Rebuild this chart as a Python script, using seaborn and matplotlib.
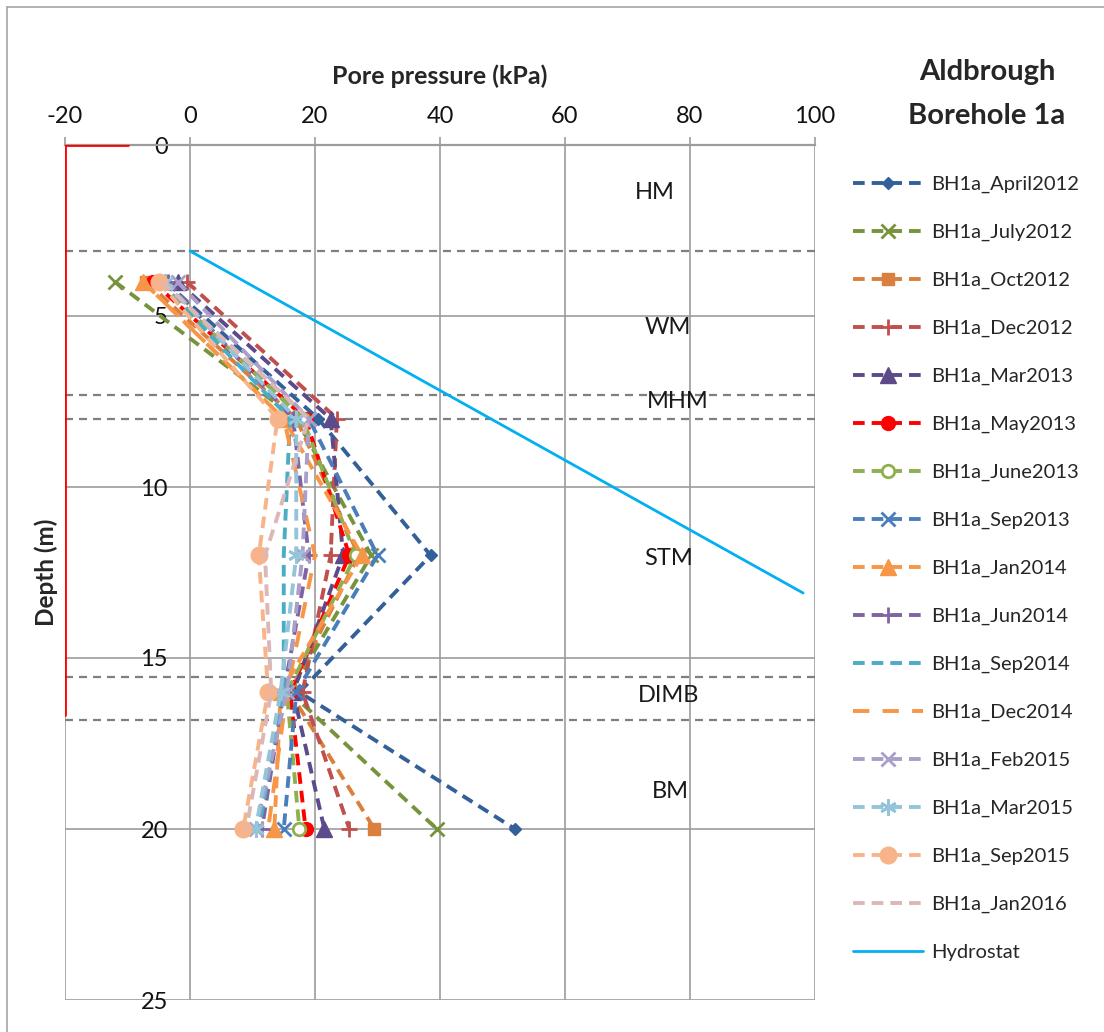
import matplotlib
matplotlib.use("Agg")
import matplotlib.pyplot as plt
from matplotlib.lines import Line2D
import seaborn as sns

# Piezometer tip depths (m)
depths = [4, 8, 12, 16, 20]

# Pore pressure readings (kPa) at each tip depth
april2012 = [-4.0, 20.5, 38.5, 17.5, 52.0]
july2012 = [-12.0, 17.0, 29.0, 16.0, 39.5]
oct2012 = [-7.0, 17.0, 27.0, 16.0, 29.5]
dec2012 = [-0.5, 23.5, 22.5, 18.0, 25.5]
mar2013 = [-2.0, 22.5, 24.5, 16.5, 21.5]
may2013 = [-6.0, 18.5, 25.5, 16.0, 18.5]
june2013 = [-5.0, 18.0, 26.5, 15.5, 17.5]
sep2013 = [-4.5, 19.0, 30.0, 17.0, 15.0]
jan2014 = [-7.5, 15.0, 27.5, 14.5, 13.5]
jun2014 = [-3.5, 16.5, 19.0, 15.0, 11.5]
sep2014 = [-5.0, 16.0, 15.0, 15.0, 11.0]
dec2014 = [-7.5, 15.0, 20.0, 15.5, 12.5]
feb2015 = [-2.0, 19.0, 18.0, 15.5, 10.5]
mar2015 = [-4.0, 17.0, 17.0, 14.5, 10.5]
sep2015 = [-5.0, 14.0, 11.0, 12.5, 8.5]
jan2016 = [-4.5, 19.0, 12.0, 13.0, 9.0]

series_names = ["BH1a_April2012", "BH1a_July2012", "BH1a_Oct2012", "BH1a_Dec2012",
                "BH1a_Mar2013", "BH1a_May2013", "BH1a_June2013", "BH1a_Sep2013",
                "BH1a_Jan2014", "BH1a_Jun2014", "BH1a_Sep2014", "BH1a_Dec2014",
                "BH1a_Feb2015", "BH1a_Mar2015", "BH1a_Sep2015", "BH1a_Jan2016"]
series_values = [april2012, july2012, oct2012, dec2012, mar2013, may2013, june2013,
                 sep2013, jan2014, jun2014, sep2014, dec2014, feb2015, mar2015,
                 sep2015, jan2016]

# Hydrostatic line from the water table
hydro_depth = [3.1, 13.1]
hydro_pressure = [0.0, 98.1]

# Ground-level reference trace
ground_pressure = [-10.0, -20.0, -20.0]
ground_depth = [0.0, 0.0, 16.67]

# Stratigraphic boundaries and unit names
boundary_depths = [3.1, 7.3, 8.0, 15.55, 16.8]
unit_names = ["HM", "WM", "MHM", "STM", "DIMB", "BM"]
unit_pressure = [74.4, 76.5, 78.0, 76.5, 76.6, 76.8]
unit_depth = [1.4, 5.35, 7.5, 12.1, 16.1, 18.9]

x_ticks = [-20, 0, 20, 40, 60, 80, 100]
y_ticks = [0, 5, 10, 15, 20, 25]

# Line styles per series
DASH = (0, (3.0, 1.8))
LONG = (0, (4.2, 3.4))
styles = [
    dict(color="#34609A", marker="D", ms=6.5, ls=DASH),
    dict(color="#77933C", marker="x", ms=10, ls=DASH, mew=2),
    dict(color="#DB7F3E", marker="s", ms=9, ls=DASH),
    dict(color="#C0504D", marker="+", ms=11, ls=DASH, mew=2),
    dict(color="#5C4A8A", marker="^", ms=11, ls=DASH),
    dict(color="#FF0000", marker="o", ms=10, ls=DASH),
    dict(color="#8FB04E", marker="o", ms=9, ls=DASH, mfc="white", mew=2),
    dict(color="#4A7EBB", marker="x", ms=10, ls=DASH, mew=2),
    dict(color="#F79646", marker="^", ms=11, ls=DASH),
    dict(color="#8064A2", marker="+", ms=11, ls=DASH, mew=2),
    dict(color="#4BACC6", marker=None, ms=0, ls=DASH),
    dict(color="#F79646", marker=None, ms=0, ls=LONG),
    dict(color="#A99FC9", marker="x", ms=10, ls=DASH, mew=2),
    dict(color="#93C4D8", marker=(6, 2, 0), ms=12, ls=DASH, mew=2),
    dict(color="#F7B48A", marker="o", ms=12, ls=DASH),
    dict(color="#DDB7B7", marker=None, ms=0, ls=DASH),
]

sns.set_theme(style="white")
plt.rcParams["font.family"] = ["Lato", "DejaVu Sans"]
plt.rcParams["axes.unicode_minus"] = False

W, H = 1104, 1032
fig = plt.figure(figsize=(W / 100, H / 100), dpi=100)
ax = fig.add_axes([65 / W, 1 - 1000 / H, 750 / W, 855 / H])

GRID = "#9C9C9C"

for d in boundary_depths:
    ax.axhline(d, color="#7F7F7F", lw=1.6, ls=(0, (3.6, 2.7)), zorder=1)

for name, vals, st in zip(series_names, series_values, styles):
    kw = dict(color=st["color"], lw=2.8, linestyle=st["ls"])
    if st["marker"] is not None:
        kw.update(marker=st["marker"], markersize=st["ms"],
                  markeredgewidth=st.get("mew", 1.0),
                  markeredgecolor=st["color"],
                  markerfacecolor=st.get("mfc", st["color"]))
    sns.lineplot(x=vals, y=depths, sort=False, estimator=None, errorbar=None,
                 label=name, ax=ax, zorder=3, **kw)

sns.lineplot(x=hydro_pressure, y=hydro_depth, sort=False, estimator=None,
             errorbar=None, color="#00B0F0", lw=2.0, label="Hydrostat", ax=ax,
             zorder=3)
sns.lineplot(x=ground_pressure, y=ground_depth, sort=False, estimator=None,
             errorbar=None, color="#FF0000", lw=2.0, ax=ax, zorder=4,
             legend=False)

for name, px, dp in zip(unit_names, unit_pressure, unit_depth):
    ax.text(px, dp, name, ha="center", va="center", fontsize=17, color="#1a1a1a")

ax.set_xlim(-20, 100)
ax.set_ylim(25, 0)
ax.set_xticks(x_ticks)
ax.set_yticks(y_ticks)
ax.set_axisbelow(True)
ax.grid(True, color=GRID, lw=1.2)

for s in ["right", "bottom", "left"]:
    ax.spines[s].set_visible(False)
ax.spines["top"].set_color(GRID)
ax.spines["top"].set_linewidth(1.6)
ax.spines["left"].set_position(("data", 0))

ax.xaxis.tick_top()
ax.xaxis.set_label_position("top")
ax.tick_params(axis="x", which="both", top=True, bottom=False, length=6,
               width=1.2, color=GRID, pad=7, labelsize=17, labelcolor="#111111")
ax.tick_params(axis="y", which="both", left=True, length=0, pad=16,
               labelsize=17, labelcolor="#111111")

ax.set_xlabel("Pore pressure (kPa)", fontsize=18, fontweight="bold")
ax.xaxis.set_label_coords(0.5, 1.071)
ax.set_ylabel("Depth (m)", fontsize=17.5, fontweight="bold")
ax.yaxis.set_label_coords(-0.009, 0.5)

handles, labels = ax.get_legend_handles_labels()
order = series_names + ["Hydrostat"]
hmap = dict(zip(labels, handles))
ax.legend([hmap[n] for n in order], order, loc="upper left",
          bbox_to_anchor=(853 / W, 1 - 176 / H), bbox_transform=fig.transFigure,
          frameon=False, fontsize=14.5, handlelength=3.5, handletextpad=0.4,
          labelspacing=1.52, borderpad=0, borderaxespad=0, numpoints=1)

fig.text(987 / W, 1 - 72 / H, "Aldbrough", ha="center", va="center",
         fontsize=21, fontweight="bold")
fig.text(987 / W, 1 - 116 / H, "Borehole 1a", ha="center", va="center",
         fontsize=21, fontweight="bold")

# Outer chart frame (left and top edges)
fig.add_artist(Line2D([7 / W, 7 / W], [0, 1 - 7 / H], transform=fig.transFigure,
                      color="#A6A6A6", lw=1.2))
fig.add_artist(Line2D([7 / W, 1], [1 - 7 / H, 1 - 7 / H], transform=fig.transFigure,
                      color="#A6A6A6", lw=1.2))

fig.savefig("out.png", dpi=100, facecolor="white")
